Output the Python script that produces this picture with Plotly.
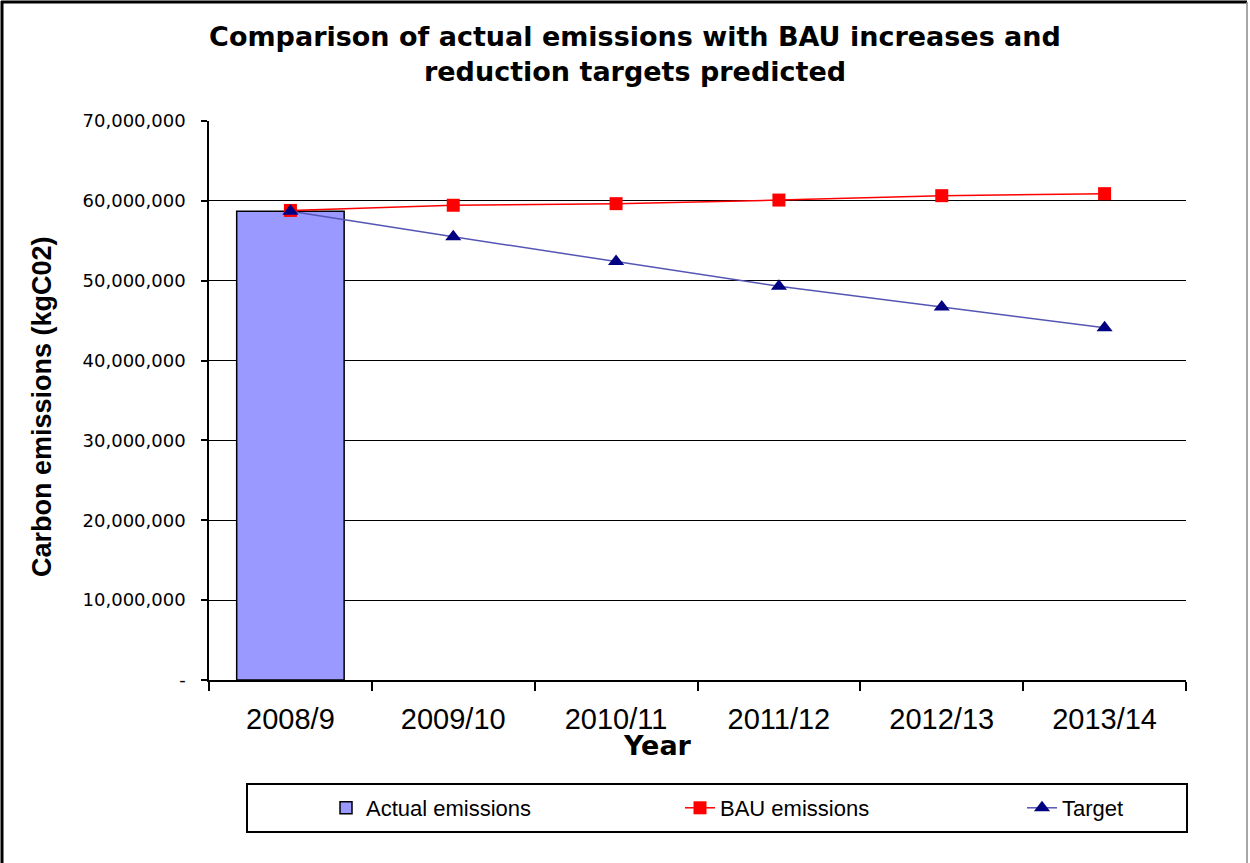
import plotly.graph_objects as go

years = ["2008/9", "2009/10", "2010/11", "2011/12", "2012/13", "2013/14"]
actual_years = ["2008/9"]
actual_emissions = [58700000]
bau_emissions = [58800000, 59450000, 59650000, 60100000, 60650000, 60900000]
target = [58700000, 55500000, 52400000, 49300000, 46700000, 44100000]

y_tickvals = [0, 10000000, 20000000, 30000000, 40000000, 50000000, 60000000, 70000000]
y_ticktext = ["-", "10,000,000", "20,000,000", "30,000,000", "40,000,000",
              "50,000,000", "60,000,000", "70,000,000"]

# plot area geometry (pixels) for paper-coordinate conversions
L, R, T, B = 209, 1186, 121, 680
W, H = R - L, B - T


def px(x):
    return (x - L) / W


def py(y):
    return (B - y) / H


ARIAL = "Liberation Sans, Arial, sans-serif"
VERDANA = "DejaVu Sans, Verdana, sans-serif"

fig = go.Figure()
fig.add_trace(go.Bar(
    x=actual_years, y=actual_emissions, name="Actual emissions", legend="legend",
    marker=dict(color="#9999FF", line=dict(color="black", width=1.5)),
))
fig.add_trace(go.Scatter(
    x=years, y=bau_emissions, name="BAU emissions", mode="lines+markers", legend="legend2",
    line=dict(color="#FF0000", width=1.5),
    marker=dict(symbol="square", size=13, color="#FF0000"),
))
fig.add_trace(go.Scatter(
    x=years, y=target, name="Target", mode="lines+markers", legend="legend3",
    line=dict(color="#5555B5", width=1.5),
    marker=dict(symbol="triangle-up", size=14, color="#000080"),
))

legend_common = dict(
    orientation="h", xref="paper", yref="paper", xanchor="left",
    y=py(808), yanchor="middle",
    font=dict(size=22, family=ARIAL),
    bgcolor="rgba(0,0,0,0)", borderwidth=0,
)

fig.update_layout(
    width=1250, height=863,
    margin=dict(l=L, r=1250 - R, t=T, b=863 - B),
    paper_bgcolor="white", plot_bgcolor="white",
    bargap=0.34,
    font=dict(family=ARIAL, color="black"),
    title=dict(
        text="<b>Comparison of actual emissions with BAU increases and<br>reduction targets predicted</b>",
        font=dict(size=27, family=VERDANA, color="black"),
        xref="paper", x=px(635), xanchor="center",
        yref="container", y=1 - 46 / 863, yanchor="middle",
    ),
    showlegend=True,
    legend=dict(legend_common, x=px(326)),
    legend2=dict(legend_common, x=px(680)),
    legend3=dict(legend_common, x=px(1022)),
    xaxis=dict(
        type="category", categoryorder="array", categoryarray=years,
        range=[-0.5, 5.5],
        showline=True, linecolor="black", linewidth=1.5,
        ticks="outside", tickson="boundaries", ticklen=9, tickcolor="black", tickwidth=1.5,
        tickfont=dict(size=29, family=ARIAL),
        ticklabelstandoff=12,
        showgrid=False, zeroline=False,
    ),
    yaxis=dict(
        range=[0, 70000000],
        tickvals=y_tickvals, ticktext=y_ticktext,
        showline=True, linecolor="black", linewidth=1.5,
        ticks="outside", ticklen=6, tickcolor="black", tickwidth=1.5,
        tickfont=dict(size=18, family=VERDANA),
        ticklabelstandoff=12,
        showgrid=True, gridcolor="black", gridwidth=1.3,
        zeroline=False,
    ),
    annotations=[
        dict(text="<b>Carbon emissions (kgC02)</b>", textangle=-90,
             xref="paper", yref="paper", x=px(42), y=py(407),
             xanchor="center", yanchor="middle", showarrow=False,
             font=dict(size=27, family=ARIAL)),
        dict(text="<b>Year</b>",
             xref="paper", yref="paper", x=px(657), y=py(745),
             xanchor="center", yanchor="middle", showarrow=False,
             font=dict(size=27, family=VERDANA)),
    ],
    shapes=[
        # legend frame
        dict(type="rect", xref="paper", yref="paper",
             x0=px(247), x1=px(1187), y0=py(832), y1=py(784),
             line=dict(color="black", width=2), fillcolor="rgba(0,0,0,0)", layer="below"),
        # outer chart frame (left, top, right)
        dict(type="line", xref="paper", yref="paper",
             x0=px(2), x1=px(2), y0=py(863), y1=py(1),
             line=dict(color="black", width=3)),
        dict(type="line", xref="paper", yref="paper",
             x0=px(1), x1=px(1247), y0=py(2), y1=py(2),
             line=dict(color="black", width=3)),
        dict(type="line", xref="paper", yref="paper",
             x0=px(1247), x1=px(1247), y0=py(863), y1=py(2),
             line=dict(color="#888888", width=1.5)),
    ],
)

fig.write_html("out.html")
